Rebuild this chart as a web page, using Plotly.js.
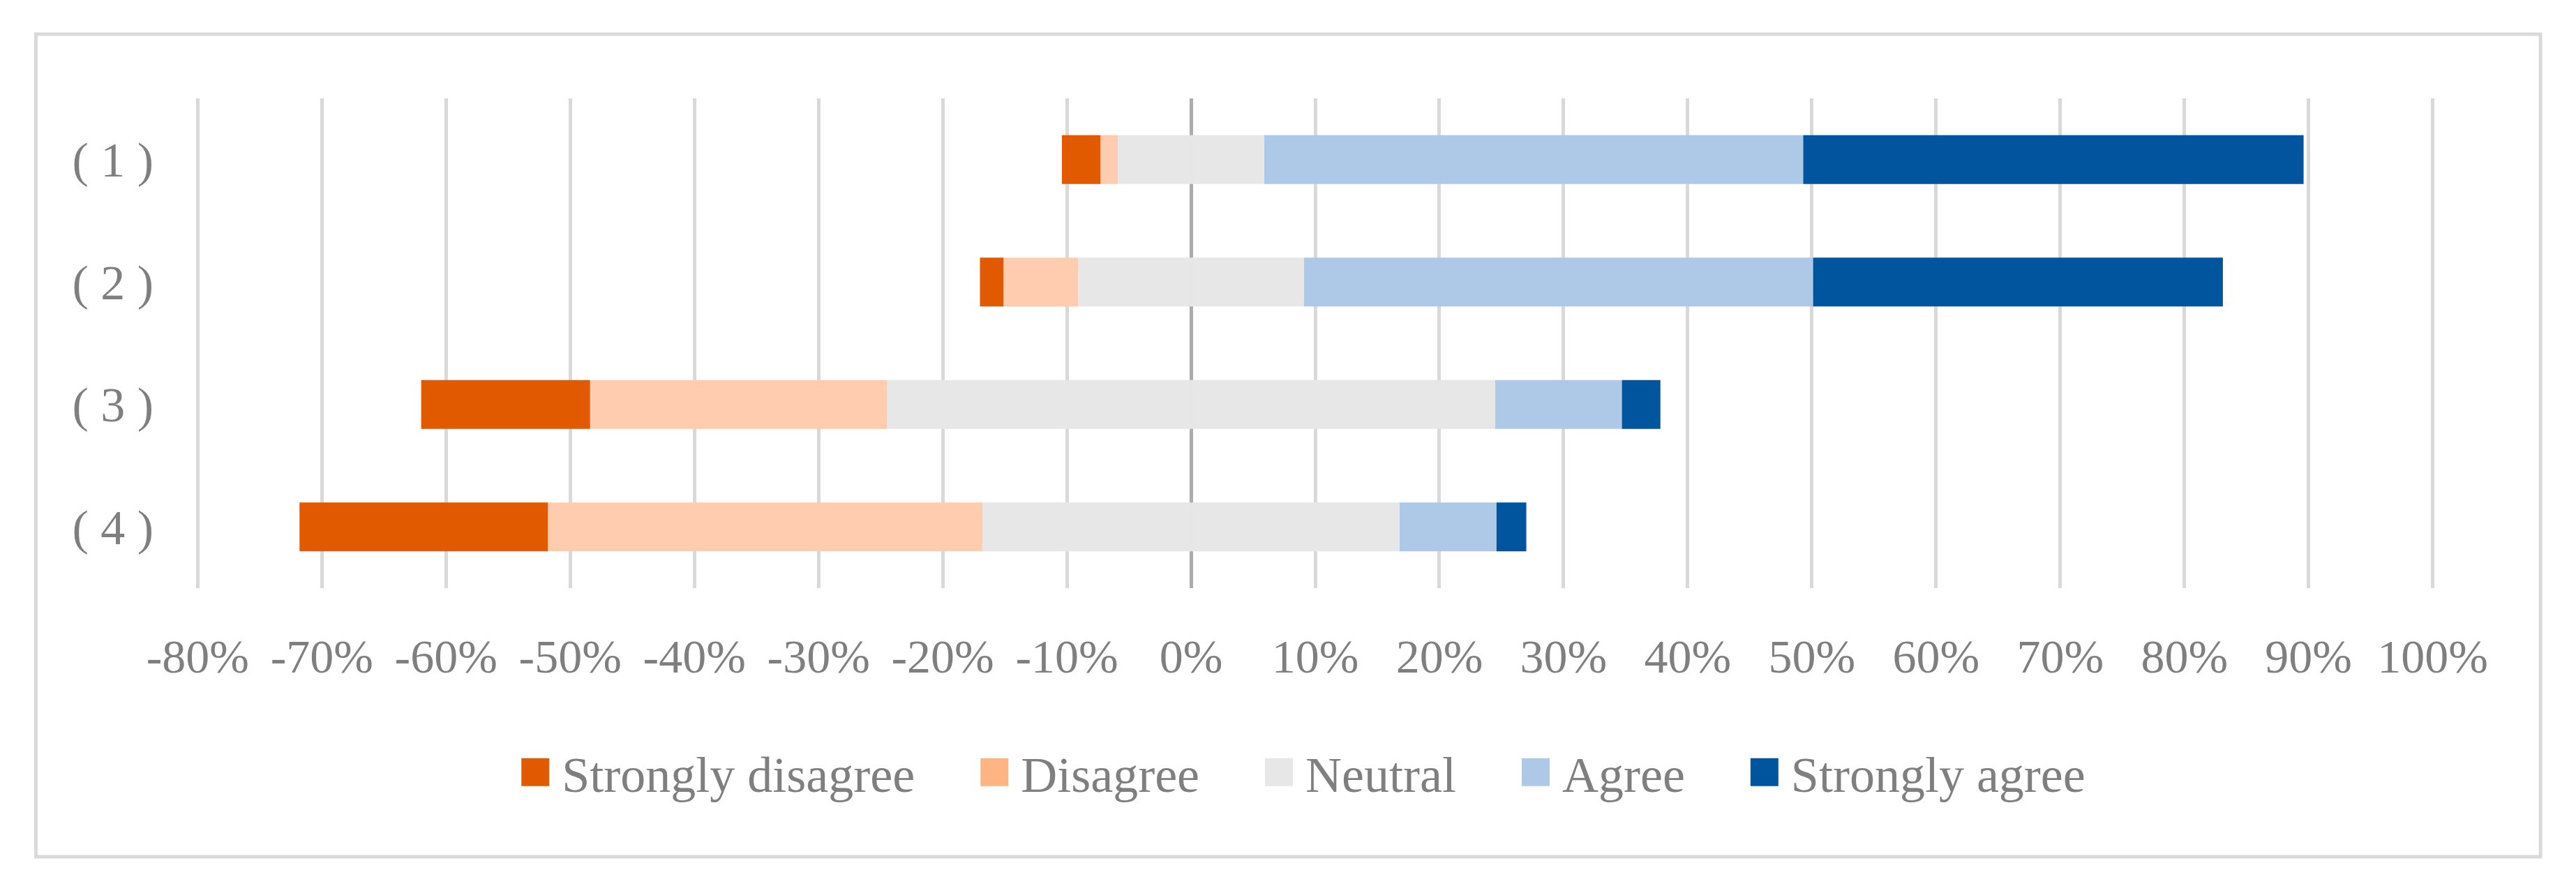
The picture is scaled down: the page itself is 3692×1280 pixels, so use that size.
<!DOCTYPE html>
<html>
<head>
<meta charset="utf-8">
<script src="https://cdn.plot.ly/plotly-3.0.1.min.js"></script>
<style>
  html, body { margin: 0; padding: 0; background: #ffffff; }
  #chart { width: 3692px; height: 1280px; }
</style>
</head>
<body>
<div id="chart"></div>
<script>
// ---- data (percent of respondents) ----
var categories = ['( 1 )', '( 2 )', '( 3 )', '( 4 )'];
var stronglyDisagree = [3.1, 1.9, 13.6, 20.0];
var disagree = [1.4, 6.0, 23.9, 35.0];
var neutral = [11.8, 18.2, 49.0, 33.6];
var agree = [43.4, 41.0, 10.2, 7.8];
var stronglyAgree = [40.3, 33.0, 3.1, 2.4];
var tickVals = [-80, -70, -60, -50, -40, -30, -20, -10, 0, 10, 20, 30, 40, 50, 60, 70, 80, 90, 100];
var tickLabels = ['-80%', '-70%', '-60%', '-50%', '-40%', '-30%', '-20%', '-10%', '0%', '10%', '20%', '30%', '40%', '50%', '60%', '70%', '80%', '90%', '100%'];

var colors = {
  sd: '#E15A00',
  d: '#FFCCAF',
  dLegend: '#FFB583',
  n: '#E7E7E7',
  a: '#AEC8E8',
  sa: '#00559E'
};
var textColor = '#7F7F7F';
var fontFamily = '"Palatino Linotype", "Book Antiqua", Palatino, "Liberation Serif", serif';

function neg(arr) { return arr.map(function (v) { return -v; }); }
function half(arr) { return arr.map(function (v) { return v / 2; }); }

function barTrace(name, x, color, rank, showlegend) {
  return {
    type: 'bar',
    orientation: 'h',
    name: name,
    y: categories,
    x: x,
    marker: { color: color, line: { width: 0 } },
    legendrank: rank,
    showlegend: showlegend,
    hoverinfo: 'skip'
  };
}

// relative mode: negative values stack outward from 0 in trace order
var traces = [
  barTrace('Neutral', neg(half(neutral)), colors.n, 3, false),
  barTrace('Disagree', neg(disagree), colors.d, 2, true),
  barTrace('Strongly disagree', neg(stronglyDisagree), colors.sd, 1, true),
  barTrace('Neutral', half(neutral), colors.n, 3, true),
  barTrace('Agree', agree, colors.a, 4, true),
  barTrace('Strongly agree', stronglyAgree, colors.sa, 5, true)
];

var layout = {
  width: 3692,
  height: 1280,
  paper_bgcolor: '#ffffff',
  plot_bgcolor: '#ffffff',
  margin: { l: 278, r: 200, t: 141, b: 437, pad: 0 },
  barmode: 'relative',
  bargap: 0.6,
  font: { family: fontFamily, color: textColor, size: 68 },
  showlegend: true,
  legend: {
    orientation: 'h',
    x: 0.495,
    xanchor: 'center',
    y: -0.376,
    yanchor: 'middle',
    font: { family: fontFamily, color: textColor, size: 72 },
    itemwidth: 50,
    traceorder: 'normal',
    bgcolor: 'rgba(0,0,0,0)'
  },
  xaxis: {
    range: [-80.3, 100.3],
    tickmode: 'array',
    tickvals: tickVals,
    ticktext: tickLabels,
    showgrid: true,
    gridcolor: '#D9D9D9',
    gridwidth: 5,
    zeroline: true,
    zerolinecolor: '#AFABAB',
    zerolinewidth: 5,
    showline: false,
    ticks: '',
    ticklabelstandoff: 52,
    tickfont: { family: fontFamily, color: textColor, size: 68 },
    fixedrange: true
  },
  yaxis: {
    type: 'category',
    autorange: 'reversed',
    showgrid: false,
    zeroline: false,
    showline: false,
    ticks: '',
    ticklabelstandoff: 57,
    tickfont: { family: fontFamily, color: textColor, size: 70 },
    fixedrange: true
  },
  shapes: [{
    type: 'rect',
    xref: 'paper', yref: 'paper',
    x0: -0.0705, x1: 1.0464,
    y0: -0.5484, y1: 1.1311,
    line: { color: '#D9D9D9', width: 5 },
    fillcolor: 'rgba(0,0,0,0)',
    layer: 'below'
  }]
};

function parseTranslate(el) {
  var t = el.getAttribute('transform') || '';
  var m = /translate\(\s*([-\d.e]+)[ ,]*([-\d.e]+)?\s*\)/.exec(t);
  return m ? [parseFloat(m[1]), parseFloat(m[2] || 0)] : [0, 0];
}

Plotly.newPlot('chart', traces, layout, { staticPlot: true, displayModeBar: false }).then(function () {
  var legend = document.querySelector('#chart .legend');
  if (!legend) return;
  // let the legend entries spread beyond Plotly's own legend box
  legend.querySelectorAll('[clip-path]').forEach(function (el) { el.removeAttribute('clip-path'); });
  if (legend.hasAttribute('clip-path')) legend.removeAttribute('clip-path');

  // Excel-style legend: 40px square swatches, gap to text, wide spacing between entries
  var swatch = 40, textGap = 18, entryGap = 94, centerX = 1868;
  var groups = Array.prototype.slice.call(legend.querySelectorAll('g.traces'));
  var items = groups.map(function (g) {
    var p = g.querySelector('.legendpoints path');
    var t = g.querySelector('text.legendtext');
    if (p) p.setAttribute('d', 'M20,20H-20V-20H20Z');
    if (p && t && t.textContent === 'Disagree') {
      p.style.fill = colors.dLegend;
      p.style.fillOpacity = 1;
    }
    return { g: g, p: p, t: t };
  }).filter(function (it) { return it.p && it.t; });
  items.sort(function (a, b) {
    return a.p.getBoundingClientRect().left - b.p.getBoundingClientRect().left;
  });
  items.forEach(function (it) {
    var pr = it.p.getBoundingClientRect();
    var tr = it.t.getBoundingClientRect();
    var dx = (pr.right + textGap) - tr.left;
    it.t.setAttribute('x', parseFloat(it.t.getAttribute('x') || 0) + dx);
    it.w = tr.width;
  });
  var total = 0;
  items.forEach(function (it, i) { total += swatch + textGap + it.w + (i ? entryGap : 0); });
  var cursor = centerX - total / 2;
  items.forEach(function (it) {
    var pr = it.p.getBoundingClientRect();
    var tr = parseTranslate(it.g);
    var dx = cursor - pr.left;
    it.g.setAttribute('transform', 'translate(' + (tr[0] + dx) + ',' + tr[1] + ')');
    cursor += swatch + textGap + it.w + entryGap;
  });
});
</script>
</body>
</html>
